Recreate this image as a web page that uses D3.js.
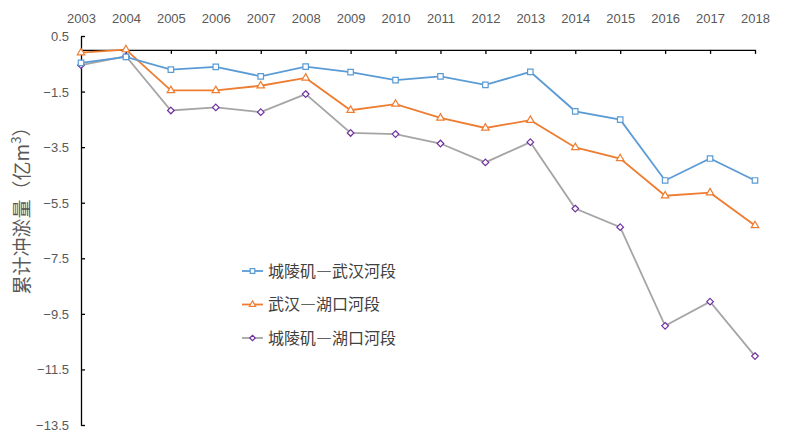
<!DOCTYPE html>
<html lang="zh">
<head>
<meta charset="UTF-8">
<title>累计冲淤量</title>
<script src="https://d3js.org/d3.v7.min.js"></script>
<style>
    body { margin: 0; background: #fff; }
    svg { display: block; }
    .tick text { font-family: "Liberation Sans", Arial, sans-serif; font-size: 13px; fill: #595959; }
    .legend text { font-family: "Noto Sans CJK SC", sans-serif; font-size: 16px; fill: #404040; }
</style>
</head>
<body>
<div id="chart"></div>
<script>
// years along the top axis
const years = [2003, 2004, 2005, 2006, 2007, 2008, 2009, 2010, 2011, 2012, 2013, 2014, 2015, 2016, 2017, 2018];

// cumulative scour/deposition, 亿m3
const chengWu = [-0.47, -0.25, -0.71, -0.61, -0.95, -0.60, -0.80, -1.09, -0.95, -1.26, -0.79, -2.21, -2.51, -4.70, -3.91, -4.70];
const wuHu = [-0.10, 0.01, -1.46, -1.46, -1.29, -1.01, -2.17, -1.95, -2.45, -2.81, -2.53, -3.51, -3.91, -5.25, -5.14, -6.32];
const chengHu = [-0.55, -0.23, -2.18, -2.07, -2.24, -1.59, -2.99, -3.03, -3.37, -4.05, -3.32, -5.71, -6.38, -9.93, -9.06, -11.02];

const yTicks = [0.5, -1.5, -3.5, -5.5, -7.5, -9.5, -11.5, -13.5];

const seriesNames = ["城陵矶—武汉河段", "武汉—湖口河段", "城陵矶—湖口河段"];

// small rotated square, like the office-chart diamond
const squareDiamond = {
    draw(ctx, size) {
        const r = Math.sqrt(size / 2);
        ctx.moveTo(0, -r);
        ctx.lineTo(r, 0);
        ctx.lineTo(0, r);
        ctx.lineTo(-r, 0);
        ctx.closePath();
    }
};

const series = [
    { name: seriesNames[0], values: chengWu, line: "#5b9bd5", mark: "#5b9bd5", shape: d3.symbolSquare, size: 30 },
    { name: seriesNames[1], values: wuHu, line: "#ed7d31", mark: "#ed7d31", shape: d3.symbolTriangle, size: 24 },
    { name: seriesNames[2], values: chengHu, line: "#a5a5a5", mark: "#7030a0", shape: squareDiamond, size: 22 }
];

const width = 800, height = 440;
const margin = { top: 36, right: 45, bottom: 15, left: 81 };

const svg = d3.select("#chart").append("svg")
    .attr("width", width)
    .attr("height", height);

const x = d3.scalePoint()
    .domain(years)
    .range([margin.left, width - margin.right]);

const y = d3.scaleLinear()
    .domain([0.5, -13.5])
    .range([margin.top, height - margin.bottom]);

const fmt = d => d3.format(".1f")(d).replace("-", "\u2212");

// y axis, ticks pointing inward
const yAxis = svg.append("g")
    .attr("transform", `translate(${margin.left},0)`)
    .call(d3.axisRight(y).tickValues(yTicks).tickSize(4).tickSizeOuter(0).tickFormat(fmt));
yAxis.select(".domain").attr("stroke", "#000").attr("stroke-width", 1.3);
yAxis.selectAll(".tick line").attr("stroke", "#000").attr("stroke-width", 1.3);
yAxis.selectAll(".tick text").attr("x", -12).attr("text-anchor", "end").attr("dy", "0.35em");

// x axis at zero, labels above the plot
const xAxis = svg.append("g")
    .attr("transform", `translate(0,${y(0)})`)
    .call(d3.axisBottom(x).tickSize(4).tickSizeOuter(0));
xAxis.select(".domain").attr("stroke", "#000").attr("stroke-width", 1.3);
xAxis.selectAll(".tick line").attr("stroke", "#000").attr("stroke-width", 1.3);
xAxis.selectAll(".tick text").attr("y", 18 - y(0)).attr("dy", "0.35em");

// y axis title
const title = svg.append("text")
    .attr("transform", "translate(29,206) rotate(-90)")
    .attr("text-anchor", "middle")
    .style("font-family", "'Noto Sans CJK SC', sans-serif")
    .style("font-size", "19px")
    .attr("fill", "#595959");
title.append("tspan").text("累计冲淤量（亿m");
title.append("tspan").attr("dy", -8).style("font-size", "13px").text("3");
title.append("tspan").attr("dy", 8).text("）");

const line = d3.line()
    .x((d, i) => x(years[i]))
    .y(d => y(d));

// draw the bottom series first so the blue sits on top
series.slice().reverse().forEach(s => {
    svg.append("path")
        .datum(s.values)
        .attr("fill", "none")
        .attr("stroke", s.line)
        .attr("stroke-width", 1.8)
        .attr("d", line);

    svg.selectAll(null)
        .data(s.values)
        .enter().append("path")
        .attr("transform", (d, i) => `translate(${x(years[i])},${y(d)})`)
        .attr("d", d3.symbol().type(s.shape).size(s.size))
        .attr("fill", "#fff")
        .attr("stroke", s.mark)
        .attr("stroke-width", 1.2);
});

// legend
const legend = svg.append("g").attr("class", "legend");
series.forEach((s, i) => {
    const ly = 271 + i * 33.5;
    const g = legend.append("g").attr("transform", `translate(242,${ly})`);
    g.append("line")
        .attr("x1", 0).attr("x2", 21)
        .attr("stroke", s.line).attr("stroke-width", 1.8);
    g.append("path")
        .attr("transform", "translate(10.5,0)")
        .attr("d", d3.symbol().type(s.shape).size(s.size * 0.7))
        .attr("fill", "#fff")
        .attr("stroke", s.mark)
        .attr("stroke-width", 1.2);
    g.append("text")
        .attr("x", 26)
        .attr("dy", "0.35em")
        .text(s.name);
});
</script>
</body>
</html>
